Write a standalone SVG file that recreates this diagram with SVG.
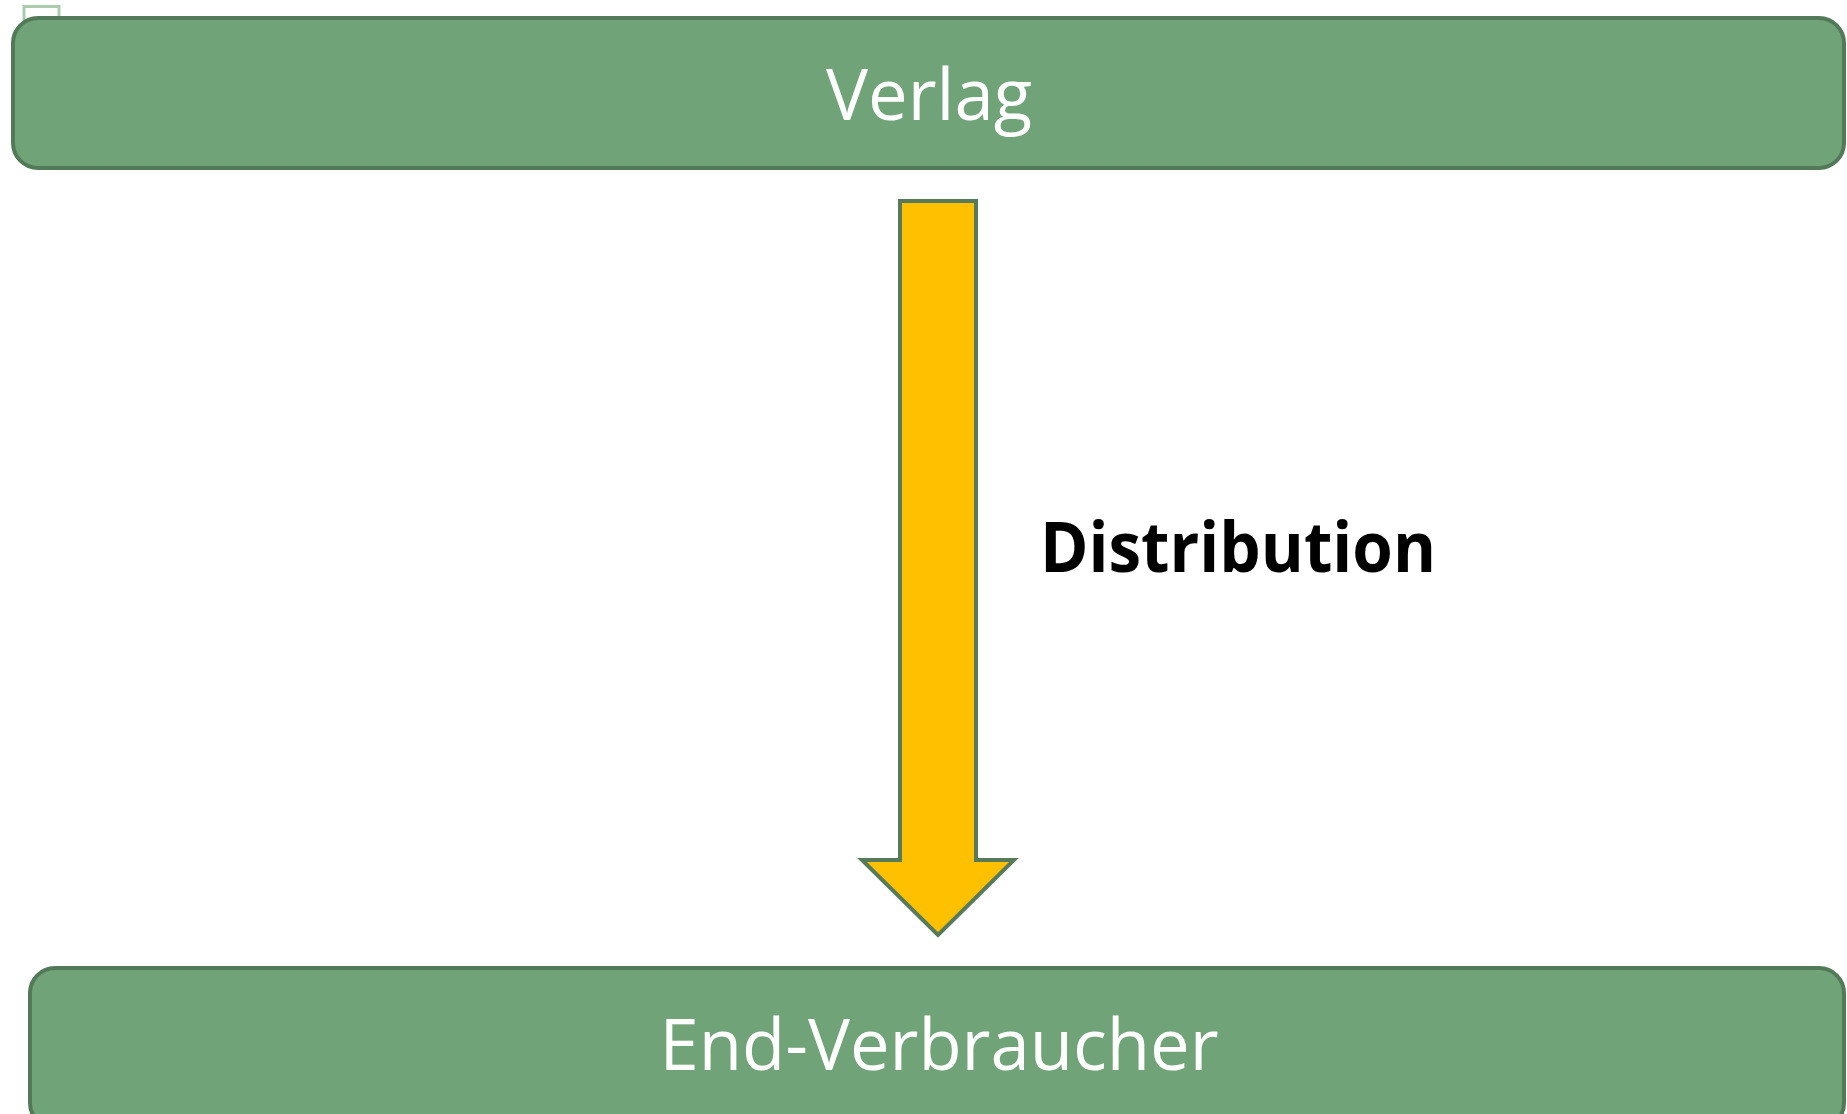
<svg xmlns="http://www.w3.org/2000/svg" width="1847" height="1114" viewBox="0 0 1847 1114">
<style>
.box{fill:#71a378;stroke:#527a58;stroke-width:4}
.lbl{font-family:"Open Sans","Noto Sans",sans-serif;font-size:72px;fill:#ffffff;text-anchor:middle}
.dist{font-family:"Open Sans","Noto Sans",sans-serif;font-size:70px;font-weight:bold;fill:#000000}
</style>
<rect width="1847" height="1114" fill="#ffffff"/>
<rect x="24" y="6.5" width="35" height="34" fill="none" stroke="#abcbad" stroke-width="3"/>
<g id="verlag">
<rect class="box" x="13" y="18" width="1831" height="150" rx="25" ry="25"/>
<text class="lbl" x="929" y="120" textLength="206" lengthAdjust="spacingAndGlyphs">Verlag</text>
</g>
<g id="end-verbraucher">
<rect class="box" x="30" y="968" width="1814" height="160" rx="25" ry="25"/>
<text class="lbl" x="939" y="1070" textLength="559" lengthAdjust="spacingAndGlyphs">End-Verbraucher</text>
</g>
<g id="connectors">
<polygon points="900,201 976,201 976,860 1014,860 938,935 862,860 900,860" fill="#ffc000" stroke="#567a5a" stroke-width="4" stroke-linejoin="miter"/>
<text class="dist" x="1040" y="572" textLength="396" lengthAdjust="spacingAndGlyphs">Distribution</text>
</g>
</svg>
